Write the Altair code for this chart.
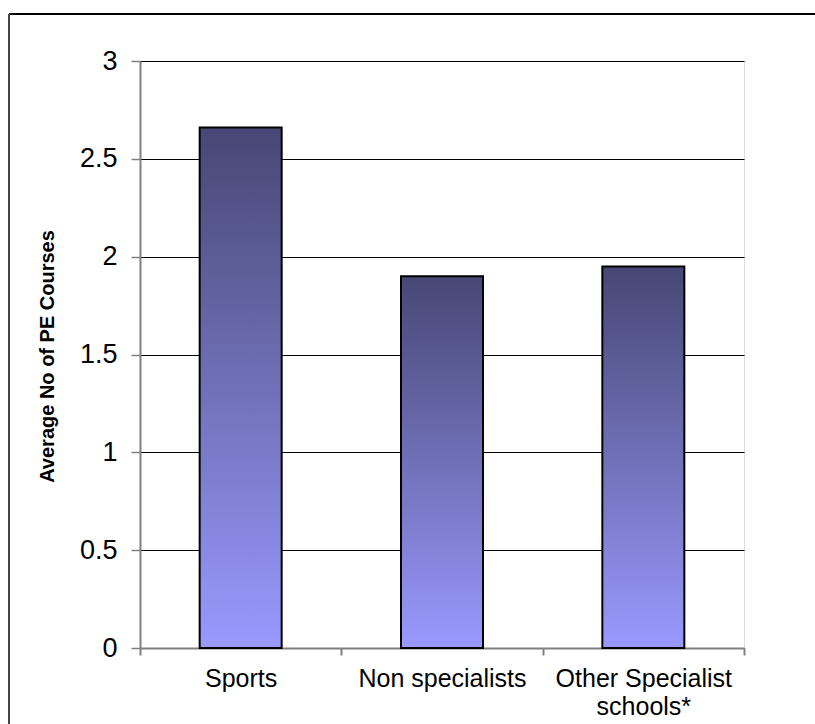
import altair as alt
import pandas as pd

categories = ["Sports", "Non specialists", "Other Specialist schools*"]
values = [2.66, 1.90, 1.95]
y_ticks = [0, 0.5, 1, 1.5, 2, 2.5, 3]

df = pd.DataFrame({"cat": categories, "val": values})
frame = pd.DataFrame({"k": [0]})

FONT = "Liberation Sans"

gradient = alt.LinearGradient(
    gradient="linear",
    stops=[
        alt.GradientStop(color="#474775", offset=0),
        alt.GradientStop(color="#7070b8", offset=0.5),
        alt.GradientStop(color="#9999ff", offset=1),
    ],
    x1=0, x2=0, y1=0, y2=1,
)

bars = alt.Chart(df).mark_bar(
    color=gradient, stroke="black", strokeWidth=2, size=82
).encode(
    x=alt.X(
        "cat:N",
        sort=categories,
        scale=alt.Scale(paddingInner=0, paddingOuter=0),
        axis=alt.Axis(
            title=None,
            labelAngle=0,
            labelFont=FONT,
            labelFontSize=25,
            labelColor="black",
            labelPadding=11,
            labelLimit=400,
            labelOverlap=False,
            labelLineHeight=28,
            labelExpr="datum.label == 'Other Specialist schools*' ? ['Other Specialist', 'schools*'] : datum.label",
            tickBand="extent",
            tickSize=7,
            tickColor="#808080",
            tickWidth=2,
            domainColor="#808080",
            domainWidth=2,
        ),
    ),
    y=alt.Y(
        "val:Q",
        scale=alt.Scale(domain=[0, 3], nice=False),
        axis=alt.Axis(
            values=y_ticks,
            format="~g",
            title="Average No of PE Courses",
            titleFont=FONT,
            titleFontSize=20,
            titleFontWeight="bold",
            titleColor="black",
            titleAngle=-90,
            titleX=-93,
            titleY=295,
            titleAlign="center",
            titleBaseline="middle",
            labelFont=FONT,
            labelFontSize=27,
            labelColor="black",
            labelPadding=14,
            tickSize=9,
            tickColor="#808080",
            tickWidth=1.5,
            domainColor="#808080",
            domainWidth=2,
            grid=True,
            gridColor="black",
            gridWidth=1,
        ),
    ),
)

top_border = alt.Chart(frame).mark_rule(color="black", strokeWidth=2).encode(
    x=alt.value(-131), x2=alt.value(690), y=alt.value(-47)
)
left_border = alt.Chart(frame).mark_rule(color="#444444", strokeWidth=2).encode(
    x=alt.value(-131), y=alt.value(-47), y2=alt.value(700)
)

chart = alt.layer(bars, top_border, left_border).properties(
    width=604,
    height=587,
    autosize=alt.AutoSizeParams(type="none"),
    padding={"left": 140, "top": 61, "right": 71, "bottom": 76},
).configure_view(stroke="#808080", strokeWidth=2).configure(background="white")

chart.save("out.html", embed_options={"renderer": "svg", "actions": False})
